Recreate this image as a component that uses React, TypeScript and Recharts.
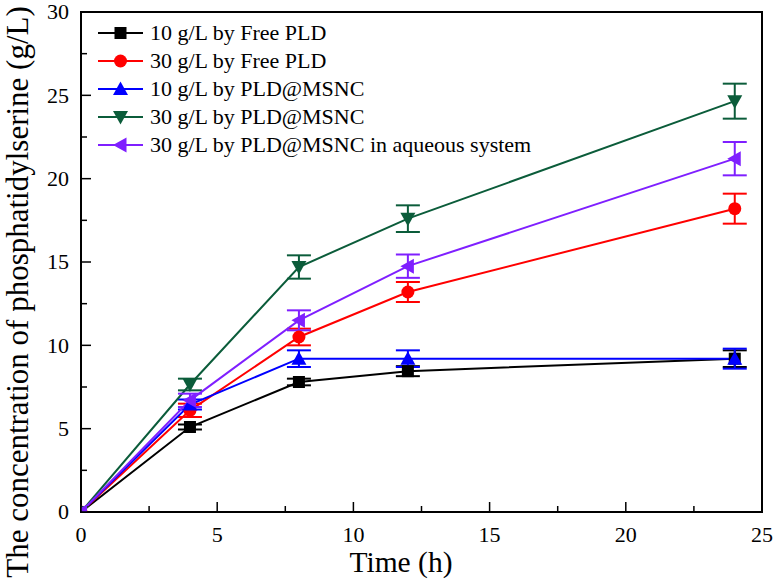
import { LineChart, Line, XAxis, YAxis, ErrorBar, ReferenceArea, Legend } from 'recharts'

// sampling times (h)
const times = [0, 4, 8, 12, 24]

// phosphatidylserine concentration (g/L) and error bars
const free10 = [0, 5.1, 7.8, 8.45, 9.2]
const free10Err = [0, 0.15, 0.2, 0.3, 0.5]
const free30 = [0, 6.1, 10.5, 13.2, 18.2]
const free30Err = [0, 0.4, 0.5, 0.6, 0.9]
const msnc10 = [0, 6.45, 9.2, 9.2, 9.2]
const msnc10Err = [0, 0.3, 0.5, 0.5, 0.6]
const msnc30 = [0, 7.65, 14.7, 17.6, 24.65]
const msnc30Err = [0, 0.35, 0.7, 0.8, 1.05]
const aqueous30 = [0, 6.7, 11.5, 14.75, 21.2]
const aqueous30Err = [0, 0.4, 0.6, 0.7, 1.0]

const xTicks = [0, 2.5, 5, 7.5, 10, 12.5, 15, 17.5, 20, 22.5, 25]
const yTicks = [0, 2.5, 5, 7.5, 10, 12.5, 15, 17.5, 20, 22.5, 25, 27.5, 30]

const names = [
  '10 g/L by Free PLD',
  '30 g/L by Free PLD',
  '10 g/L by PLD@MSNC',
  '30 g/L by PLD@MSNC',
  '30 g/L by PLD@MSNC in aqueous system',
]

const data = times.map((t, i) => ({
  time: t,
  free10: free10[i],
  free10Err: free10Err[i],
  free30: free30[i],
  free30Err: free30Err[i],
  msnc10: msnc10[i],
  msnc10Err: msnc10Err[i],
  msnc30: msnc30[i],
  msnc30Err: msnc30Err[i],
  aqueous30: aqueous30[i],
  aqueous30Err: aqueous30Err[i],
}))

const series = [
  { key: 'free10', name: names[0], color: '#000000', shape: 'square' },
  { key: 'free30', name: names[1], color: '#ff0000', shape: 'circle' },
  { key: 'msnc10', name: names[2], color: '#0000ff', shape: 'up' },
  { key: 'msnc30', name: names[3], color: '#0b5c3a', shape: 'down' },
  { key: 'aqueous30', name: names[4], color: '#7f1fff', shape: 'left' },
]

const FONT = '"Liberation Serif", "Times New Roman", serif'

const Marker = ({ shape, cx, cy, color }: any) => {
  if (cx == null || cy == null) return null
  switch (shape) {
    case 'square':
      return <rect x={cx - 6} y={cy - 6} width={12} height={12} fill={color} />
    case 'circle':
      return <circle cx={cx} cy={cy} r={6.5} fill={color} />
    case 'up':
      return <polygon points={`${cx},${cy - 7.5} ${cx + 7.5},${cy + 6} ${cx - 7.5},${cy + 6}`} fill={color} />
    case 'down':
      return <polygon points={`${cx},${cy + 7.5} ${cx + 7.5},${cy - 6} ${cx - 7.5},${cy - 6}`} fill={color} />
    default:
      return <polygon points={`${cx - 7.5},${cy} ${cx + 6},${cy - 7.5} ${cx + 6},${cy + 7.5}`} fill={color} />
  }
}

const XTick = ({ x, y, payload }: any) => {
  const major = payload.value % 5 === 0
  return (
    <g>
      <line x1={x} x2={x} y1={y} y2={y - (major ? 10 : 6)} stroke="#000" strokeWidth={1.5} />
      {major && (
        <text x={x} y={y + 30} textAnchor="middle" fontSize={22} fontFamily={FONT} fill="#000">
          {payload.value}
        </text>
      )}
    </g>
  )
}

const YTick = ({ x, y, payload }: any) => {
  const major = payload.value % 5 === 0
  return (
    <g>
      <line x1={x} x2={x + (major ? 10 : 6)} y1={y} y2={y} stroke="#000" strokeWidth={1.5} />
      {major && (
        <text x={x - 12} y={y} dy="0.33em" textAnchor="end" fontSize={22} fontFamily={FONT} fill="#000">
          {payload.value}
        </text>
      )}
    </g>
  )
}

// legend rows follow the series order
const LegendBox = () => (
  <div style={{ fontFamily: FONT, fontSize: 22, color: '#000' }}>
    {series.map((s) => (
      <div key={s.key} style={{ display: 'flex', alignItems: 'center', height: 28 }}>
        <svg width={45} height={28}>
          <line x1={0} x2={45} y1={14} y2={14} stroke={s.color} strokeWidth={2} />
          <Marker shape={s.shape} cx={22.5} cy={14} color={s.color} />
        </svg>
        <span style={{ marginLeft: 7, whiteSpace: 'nowrap' }}>{s.name}</span>
      </div>
    ))}
  </div>
)

export default function App() {
  return (
    <div style={{ position: 'absolute', left: 0, top: 0, background: '#fff' }}>
      <LineChart width={774} height={582} data={data} margin={{ top: 12, right: 12, left: 0, bottom: 0 }}>
        <ReferenceArea x1={0} x2={25} y1={0} y2={30} fill="none" stroke="#000" strokeWidth={2} />
        <XAxis
          type="number"
          dataKey="time"
          domain={[0, 25]}
          ticks={xTicks}
          interval={0}
          allowDataOverflow
          height={70}
          tickSize={0}
          tickMargin={0}
          tickLine={false}
          axisLine={{ stroke: '#000', strokeWidth: 2 }}
          tick={<XTick />}
          label={() => (
            <text x={401} y={572} textAnchor="middle" fontSize={29.5} fontFamily={FONT} fill="#000">
              Time (h)
            </text>
          )}
        />
        <YAxis
          type="number"
          domain={[0, 30]}
          ticks={yTicks}
          interval={0}
          allowDataOverflow
          width={81}
          tickSize={0}
          tickMargin={0}
          tickLine={false}
          axisLine={{ stroke: '#000', strokeWidth: 2 }}
          tick={<YTick />}
          label={() => (
            <text
              x={28}
              y={292}
              transform="rotate(-90 28 292)"
              textAnchor="middle"
              fontSize={31}
              fontFamily={FONT}
              fill="#000"
            >
              The concentration of phosphatidylserine (g/L)
            </text>
          )}
        />
        <Legend
          content={<LegendBox />}
          layout="vertical"
          verticalAlign="middle"
          align="center"
          wrapperStyle={{ top: 19, left: 98, width: 'auto' }}
        />
        {series.map((s) => (
          <Line
            key={s.key}
            type="linear"
            dataKey={s.key}
            name={s.name}
            stroke={s.color}
            strokeWidth={2}
            isAnimationActive={false}
            activeDot={false}
            dot={(p: any) => <Marker key={`${s.key}-${p.index}`} shape={s.shape} cx={p.cx} cy={p.cy} color={s.color} />}
          >
            <ErrorBar
              dataKey={`${s.key}Err`}
              direction="y"
              width={12}
              stroke={s.color}
              strokeWidth={2}
              isAnimationActive={false}
            />
          </Line>
        ))}
      </LineChart>
    </div>
  )
}
